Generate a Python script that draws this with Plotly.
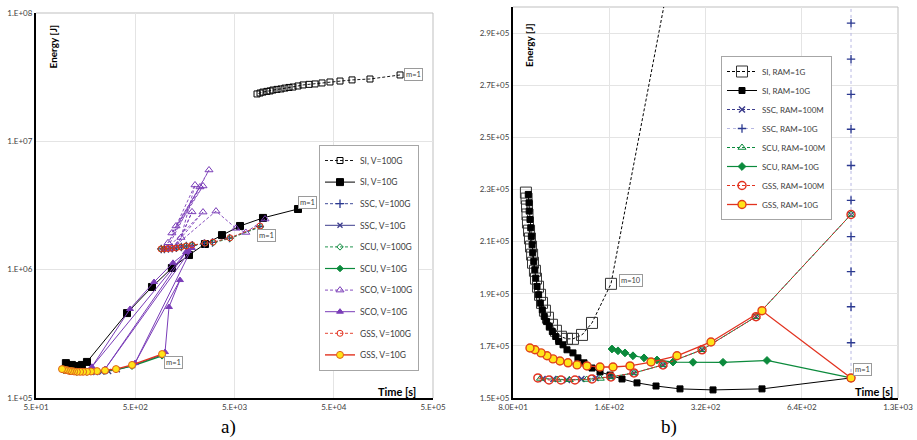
import math
import plotly.graph_objects as go

W, H = 917, 440

# ---------------- Panel a) data (time [s], energy [J]) ----------------
si100_t = [232800, 115900, 76400, 57800, 45800, 38100, 32400, 28200, 24500, 21800, 19400,
           17700, 16100, 14700, 13400, 12200, 11400, 10600, 9680, 9040, 8430]
si100_e = [3.29e7, 3.06e7, 3.01e7, 2.95e7, 2.90e7, 2.85e7, 2.80e7, 2.78e7, 2.75e7, 2.70e7, 2.65e7,
           2.63e7, 2.60e7, 2.56e7, 2.54e7, 2.51e7, 2.47e7, 2.45e7, 2.42e7, 2.38e7, 2.34e7]

si10_t = [21800, 9680, 5680, 3740, 2520, 1740, 1170, 737, 413, 163, 145, 129, 115, 100]
si10_e = [2.97e6, 2.53e6, 2.19e6, 1.86e6, 1.585e6, 1.30e6, 1.03e6, 7.33e5, 4.59e5,
          1.91e5, 1.81e5, 1.775e5, 1.81e5, 1.87e5]

ssc100_t = [9000, 4450, 3000, 2480, 1880, 1640, 1460, 1300, 1180, 1080, 985, 915]
ssc100_e = [2.17e6, 1.76e6, 1.63e6, 1.60e6, 1.55e6, 1.53e6, 1.50e6, 1.48e6, 1.47e6, 1.46e6, 1.45e6, 1.45e6]

ssc10_t = [931, 470, 330, 270, 230, 200, 170, 145, 120, 100]
ssc10_e = [2.17e5, 1.79e5, 1.66e5, 1.61e5, 1.59e5, 1.58e5, 1.585e5, 1.59e5, 1.61e5, 1.64e5]

scu100_t = [9100, 4500, 3050, 2500, 1870, 1630, 1450, 1290, 1175, 1075, 980, 910]
scu100_e = [2.15e6, 1.75e6, 1.62e6, 1.60e6, 1.55e6, 1.53e6, 1.50e6, 1.48e6, 1.47e6, 1.46e6, 1.45e6, 1.45e6]

scu10_t = [931, 464, 320, 248, 206, 163, 129, 110, 95.7]
scu10_e = [2.13e5, 1.77e5, 1.66e5, 1.62e5, 1.60e5, 1.59e5, 1.59e5, 1.61e5, 1.64e5]

sco100_t = [10150, 6500, 5170, 3256, 1170, 2409, 1040, 2767, 1069, 2409, 1170, 2245, 1288, 2000,
            1445, 1866, 1330]
sco100_e = [2.48e6, 1.95e6, 2.10e6, 2.86e6, 1.46e6, 2.81e6, 1.45e6, 5.98e6, 1.62e6, 4.49e6,
            1.93e6, 4.41e6, 2.19e6, 4.57e6, 1.78e6, 2.82e6, 1.55e6]

sco10_t = [998, 1094, 1412, 497, 1866, 248, 1622, 183, 443, 773, 1200, 1700]
sco10_e = [2.28e5, 5.12e5, 8.30e5, 1.87e5, 1.475e6, 1.68e5, 1.37e6, 1.75e5, 4.94e5, 8.01e5, 1.13e6, 1.40e6]

gss100_t = [9040, 4500, 3035, 2520, 1866, 1622, 1445, 1288, 1170, 1069, 975, 908]
gss100_e = [2.19e6, 1.77e6, 1.64e6, 1.61e6, 1.56e6, 1.53e6, 1.50e6, 1.475e6, 1.465e6, 1.46e6, 1.45e6, 1.45e6]

gss10_t = [931, 464, 320, 248, 206, 179, 163, 149, 139, 129, 121, 115, 110, 105, 100, 95.7, 91.4]
gss10_e = [2.20e5, 1.81e5, 1.68e5, 1.64e5, 1.62e5, 1.61e5, 1.60e5, 1.60e5, 1.60e5, 1.60e5,
           1.61e5, 1.62e5, 1.62e5, 1.64e5, 1.65e5, 1.665e5, 1.68e5]

# ---------------- Panel b) data ----------------
b_si1g_t = [266.3, 162.0, 141.3, 131.5, 123.2, 118.0, 113.0, 109.0, 105.9, 102.9, 100.7, 98.6, 97.2,
            95.8, 94.4, 93.7, 92.4, 91.8, 91.1, 90.4, 89.8, 89.1, 88.8, 88.5, 88.2, 87.8]
b_si1g_e = [332700, 193800, 178800, 174200, 172700, 172700, 173500, 175800, 178100, 180800, 183500,
            186500, 189600, 192700, 195800, 198800, 201900, 205000, 208100, 211200, 214200, 217300,
            220400, 223500, 226500, 228800]

b_si10g_t = [912.6, 480.7, 337.8, 266.3, 224.1, 195.4, 175.4, 160.9, 149.7, 141.3, 133.4, 127.7, 123.2,
             118.0, 114.7, 111.2, 108.8, 106.2, 103.9, 101.9, 100.2, 98.8, 97.4, 96.2, 95.1, 94.2,
             93.6, 92.9, 92.2, 91.8, 91.3, 90.9, 90.4, 89.9, 89.8, 89.3]
b_si10g_e = [157700, 153500, 153100, 153500, 154600, 155800, 157300, 158800, 160000, 161500, 163500,
             165400, 167300, 168500, 170400, 171700, 173600, 175500, 177400, 179300, 181300, 183800,
             186400, 189600, 192800, 196000, 199200, 202400, 205700, 208800, 212000, 215300, 218500,
             221700, 224900, 228100]

b_ssc100m_t = [99.0, 107.0, 118.0, 131.0, 145.0, 162.0, 191.2, 235.6, 312.1, 460.5, 912.6]
b_ssc100m_e = [157300, 157300, 156900, 157300, 157700, 158100, 159600, 162700, 168500, 181200, 220400]

b_ssc10g_t = [912.6] * 12
b_ssc10g_e = [157700, 171200, 185000, 198500, 211900, 225800, 239200, 253100, 266500, 280000,
              293800, 307500]

b_scu100m_t = [97.5, 110.0, 120.0, 136.0, 150.0, 162.0, 191.2, 235.6, 312.1, 460.5, 912.6]
b_scu100m_e = [157500, 157100, 157000, 157100, 157500, 158100, 159600, 162700, 168500, 181200, 220400]

b_scu10g_t = [912.6, 498.3, 363.0, 292.5, 253.2, 225.7, 205.5, 189.8, 179.2, 170.4, 163.2]
b_scu10g_e = [157700, 164400, 163700, 163700, 163800, 164600, 165400, 166200, 167300, 168100, 168800]

b_gss100m_t = [95.7, 103.7, 113.0, 125.0, 141.3, 162.0, 191.2, 235.6, 312.1, 460.5, 912.6]
b_gss100m_e = [157700, 156900, 156900, 156900, 157300, 158100, 159600, 162700, 168500, 181200, 220400]

b_gss10g_t = [912.6, 480.7, 332.9, 260.6, 216.2, 185.8, 164.4, 149.7, 136.3, 126.9, 118.9, 112.2,
              106.7, 102.2, 97.9, 93.7, 90.4]
b_gss10g_e = [157700, 183500, 171500, 166200, 163800, 162300, 161900, 161900, 162300, 162700,
              163500, 164200, 165000, 166200, 167300, 168500, 169200]

# tick labels
a_xticks = [50, 500, 5000, 50000, 500000]
a_xlabels = ["5.E+01", "5.E+02", "5.E+03", "5.E+04", "5.E+05"]
a_yticks = [1e5, 1e6, 1e7, 1e8]
a_ylabels = ["1.E+05", "1.E+06", "1.E+07", "1.E+08"]
b_xticks = [80, 160, 320, 640, 1280]
b_xlabels = ["8.0E+01", "1.6E+02", "3.2E+02", "6.4E+02", "1.3E+03"]
b_yticks = [150000, 170000, 190000, 210000, 230000, 250000, 270000, 290000]
b_ylabels = ["1.5E+05", "1.7E+05", "1.9E+05", "2.1E+05", "2.3E+05", "2.5E+05", "2.7E+05", "2.9E+05"]

BLACK = "#000000"
NAVY = "#2B3990"
NAVY2 = "#3C3C8C"
GREEN = "#0B8A3C"
PURPLE = "#7A3DB8"
RED = "#E2321F"
YELLOW = "#FFE419"

fig = go.Figure()


def add(t, e, name, color, symbol, size, dash="solid", lw=1.0, fill=None, edge=None,
        panel="a", lcolor=None, ewidth=1.0):
    xa, ya, lg = ("x", "y", "legend") if panel == "a" else ("x2", "y2", "legend2")
    fig.add_trace(go.Scatter(
        x=t, y=e, name=name, mode="lines+markers", xaxis=xa, yaxis=ya, legend=lg,
        legendgroup=name + panel,
        line=dict(color=lcolor or color, width=lw, dash=dash),
        marker=dict(symbol=symbol, size=size, color=fill or color,
                    line=dict(color=edge or color, width=ewidth)),
    ))


DASH = "3px,2px"
# panel a
add(si100_t, si100_e, "SI, V=100G", BLACK, "square-open", 6, DASH, 0.9)
add(si10_t, si10_e, "SI, V=10G", BLACK, "square", 7, "solid", 1.0)
add(ssc100_t, ssc100_e, "SSC, V=100G", NAVY, "cross-thin-open", 6, DASH, 0.9, ewidth=1.3)
add(ssc10_t, ssc10_e, "SSC, V=10G", NAVY2, "x-thin-open", 5, "solid", 1.0, ewidth=1.3)
add(scu100_t, scu100_e, "SCU, V=100G", GREEN, "diamond-open", 5, DASH, 0.9)
add(scu10_t, scu10_e, "SCU, V=10G", GREEN, "diamond", 5, "solid", 1.2)
add(sco100_t, sco100_e, "SCO, V=100G", PURPLE, "triangle-up-open", 7, DASH, 0.9)
add(sco10_t, sco10_e, "SCO, V=10G", PURPLE, "triangle-up", 6, "solid", 1.0)
add(gss100_t, gss100_e, "GSS, V=100G", RED, "circle-open", 6, DASH, 0.9)
add(gss10_t, gss10_e, "GSS, V=10G", RED, "circle", 7, "solid", 1.4, fill=YELLOW, edge="#E0601A")

# panel b
add(b_si1g_t, b_si1g_e, "SI, RAM=1G", "#333333", "square-open", 11, DASH, 1.0, panel="b", lcolor=BLACK)
add(b_si10g_t, b_si10g_e, "SI, RAM=10G", BLACK, "square", 6, "solid", 1.0, panel="b")
add(b_ssc100m_t, b_ssc100m_e, "SSC, RAM=100M", NAVY2, "x-thin-open", 6, DASH, 1.0, panel="b", ewidth=1.5)
add(b_ssc10g_t, b_ssc10g_e, "SSC, RAM=10G", NAVY, "cross-thin-open", 6, "dot", 1.0, panel="b",
    lcolor="#B7B7E2", ewidth=1.3)
add(b_scu100m_t, b_scu100m_e, "SCU, RAM=100M", GREEN, "triangle-up-open", 7, DASH, 1.0, panel="b")
add(b_scu10g_t, b_scu10g_e, "SCU, RAM=10G", GREEN, "diamond", 6, "solid", 1.2, panel="b")
add(b_gss100m_t, b_gss100m_e, "GSS, RAM=100M", RED, "circle-open", 8, DASH, 1.0, panel="b", ewidth=1.5)
add(b_gss10g_t, b_gss10g_e, "GSS, RAM=10G", RED, "circle", 8, "solid", 1.3, fill=YELLOW,
    edge="#E0401A", panel="b", ewidth=1.4)

GRID = "#E4E4E4"
TICKFONT = dict(family="Lato, sans-serif", size=8, color="#404040")
common = dict(showgrid=True, gridcolor=GRID, gridwidth=1, zeroline=False, showline=True,
              linecolor=BLACK, linewidth=2, ticks="", tickfont=TICKFONT, mirror=False,
              automargin=False)

fig.update_layout(
    width=W, height=H, margin=dict(l=0, r=0, t=0, b=0, autoexpand=False),
    paper_bgcolor="white", plot_bgcolor="white",
    font=dict(family="Lato, sans-serif", size=9, color="#404040"),
    xaxis=dict(domain=[36 / W, 433 / W], type="log", range=[math.log10(50), math.log10(500000)],
               tickvals=a_xticks, ticktext=a_xlabels, anchor="y", **common),
    yaxis=dict(domain=[42 / H, 427 / H], type="log", range=[5, 8],
               tickvals=a_yticks, ticktext=a_ylabels, anchor="x", **common),
    xaxis2=dict(domain=[513 / W, 898 / W], type="log", range=[math.log10(80), math.log10(1280)],
                tickvals=b_xticks, ticktext=b_xlabels, anchor="y2", **common),
    yaxis2=dict(domain=[42 / H, 433 / H], range=[150000, 300000],
                tickvals=b_yticks, ticktext=b_ylabels, anchor="x2", **common),
    legend=dict(x=319 / W, y=1 - 145 / H, xanchor="left", yanchor="top",
                bordercolor="#A6A6A6", borderwidth=1, bgcolor="white",
                tracegroupgap=2.6, font=dict(size=8.5, color="#404040"), itemwidth=30),
    legend2=dict(x=721 / W, y=1 - 56 / H, xanchor="left", yanchor="top",
                 bordercolor="#A6A6A6", borderwidth=1, bgcolor="white",
                 tracegroupgap=0, font=dict(size=8, color="#404040"), itemwidth=30),
)

# gray top/right plot borders
for xr, yr in (("x domain", "y domain"), ("x2 domain", "y2 domain")):
    fig.add_shape(type="line", xref=xr, yref=yr, x0=0, x1=1, y0=1, y1=1,
                  line=dict(color="#BFBFBF", width=1), layer="below")
    fig.add_shape(type="line", xref=xr, yref=yr, x0=1, x1=1, y0=0, y1=1,
                  line=dict(color="#BFBFBF", width=1), layer="below")


def ptext(x, y, text, size, angle=0, family="Lato, sans-serif", color="#000000"):
    fig.add_annotation(x=x / W, y=1 - y / H, xref="paper", yref="paper", text=text,
                       showarrow=False, textangle=angle, xanchor="center", yanchor="middle",
                       font=dict(size=size, family=family, color=color))


ptext(52.5, 47, "<b>Energy [J]</b>", 10, angle=-90)
ptext(397, 391, "<b>Time [s]</b>", 11)
ptext(529.5, 45.5, "<b>Energy [J]</b>", 10, angle=-90)
ptext(874, 391, "<b>Time [s]</b>", 11)
ptext(228, 427, "a)", 19, family="Liberation Serif, serif")
ptext(669, 427, "b)", 19, family="Liberation Serif, serif")


def mlabel(x, y, text, xa, ya, xanchor, yanchor, xshift, yshift):
    fig.add_annotation(x=math.log10(x), y=(math.log10(y) if ya == "y" else y), xref=xa, yref=ya,
                       text=text, showarrow=False, xanchor=xanchor, yanchor=yanchor,
                       xshift=xshift, yshift=yshift, bgcolor="white", bordercolor="#9A9A9A",
                       borderwidth=1, borderpad=1, font=dict(size=7.5, color="#404040"))


mlabel(si100_t[0], si100_e[0], "m=1", "x", "y", "left", "middle", 4, 0)
mlabel(si10_t[0], si10_e[0], "m=1", "x", "y", "left", "bottom", 0, 0)
mlabel(gss100_t[0], gss100_e[0], "m=1", "x", "y", "left", "top", -3, -3)
mlabel(gss10_t[0], gss10_e[0], "m=1", "x", "y", "left", "top", 2, -2)
mlabel(b_si1g_t[1], b_si1g_e[1], "m=10", "x2", "y2", "left", "middle", 8, 3)
mlabel(b_gss10g_t[0], b_gss10g_e[0], "m=1", "x2", "y2", "left", "bottom", 2, 2)

fig.write_html(
    "out.html",
    config={"displayModeBar": False},
    post_script="document.body.style.margin='0';document.body.style.overflow='hidden';",
)
